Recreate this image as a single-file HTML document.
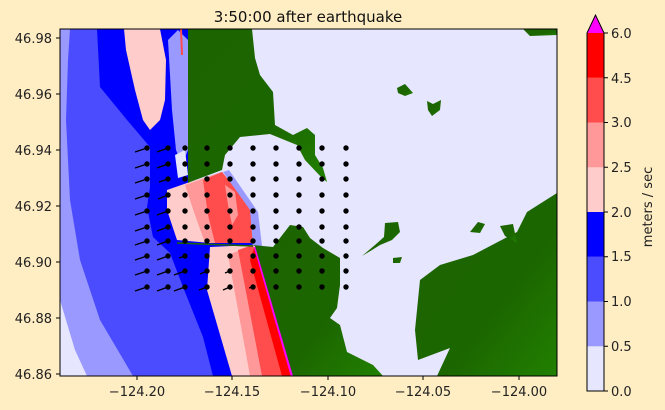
<!DOCTYPE html>
<html><head><meta charset="utf-8"><style>
html,body{margin:0;padding:0;background:#ffeec4;}
svg{display:block;font-family:"DejaVu Sans","Liberation Sans",sans-serif;}
</style></head><body>
<svg width="665" height="410" viewBox="0 0 665 410" xmlns="http://www.w3.org/2000/svg">
<defs>
<linearGradient id="g" x1="0" y1="0" x2="1" y2="1">
<stop offset="0" stop-color="#1c6400"/><stop offset="0.6" stop-color="#1c6600"/><stop offset="1" stop-color="#218000"/>
</linearGradient>
<clipPath id="c"><rect x="60" y="29" width="497" height="347"/></clipPath>
</defs>
<rect width="665" height="410" fill="#ffeec4"/>
<g clip-path="url(#c)">
<rect x="60" y="29" width="497" height="347" fill="#e6e6ff"/>
<polygon points="60,29 188,29 188,183 222,172 253,210 253,247 293,376 60,376" fill="#4c4cff"/>
<polygon points="60,29 70,29 68,60 66,120 70,200 80,260 100,320 133,376 60,376" fill="#9999ff"/>
<polygon points="60,300 75,350 87,376 60,376" fill="#e6e6ff"/>
<polygon points="97,29 188,29 188,183 222,172 253,247 293,376 213,376 203,337 183,287 170,253 153,237 147,207 150,187 150,147 127,120 100,87" fill="#0000ff"/>
<polygon points="168,40 178,30 188,40 188,150 182,165 176,150 172,110" fill="#9999ff"/>
<polygon points="175,155 185,150 188,175 178,178" fill="#e6e6ff"/>
<polygon points="124,29 160,29 166,60 165,100 160,120 150,130 143,120 135,90 126,50" fill="#ffcccc"/>
<polygon points="180,29 182,29 183,55 181,55" fill="#ff4c4c"/>
<polygon points="167,190 187,183 222,172 250,207 253,243 210,243 177,240 167,210" fill="#ffcccc"/>
<polygon points="185,185 222,172 250,207 253,243 205,243 195,215" fill="#ff9999"/>
<polygon points="203,180 222,172 250,207 253,243 215,243 208,215" fill="#ff4c4c"/>
<polygon points="225,185 235,192 238,215 232,225 228,205" fill="#ff9999"/>
<polygon points="223,172 229,170 258,212 262,246 253,246 250,210" fill="#9999ff"/>
<polygon points="210,247 253,245 293,376 232,376 207,290" fill="#ffcccc"/>
<polygon points="228,255 253,245 293,376 250,376" fill="#ff9999"/>
<polygon points="238,250 253,245 293,376 262,376" fill="#ff4c4c"/>
<polygon points="250,260 255,246 293,376 282,376" fill="#ff0000"/>
<line x1="255" y1="247" x2="292" y2="376" stroke="#ff00ff" stroke-width="2.5"/>
<line x1="177" y1="243" x2="253" y2="246" stroke="#1c6400" stroke-width="1.5"/>
<polygon fill="url(#g)" points="188,29 252,29 255,58 260,75 273,92 275,125 293,135 307,128 315,135 315,155 323,168 327,182 322,178 305,160 297,145 270,134 240,137 225,155 222,170 190,182 188,183"/>
<polygon fill="url(#g)" points="255,246 253,245 273,247 290,225 303,227 310,238 323,248 340,258 340,285 337,308 330,318 340,325 347,352 373,365 383,376 293,376"/>
<polygon fill="url(#g)" points="437,376 450,348 418,360 415,330 420,280 440,265 473,255 517,232 527,212 557,193 557,376"/>
<polygon fill="url(#g)" points="523,29 557,29 557,35 530,36"/>
<polygon fill="url(#g)" points="397,88 405,84 413,93 405,96 398,93"/>
<polygon fill="url(#g)" points="427,101 433,104 441,100 440,110 432,116 428,110"/>
<polygon fill="url(#g)" points="385,223 398,222 400,232 392,240 380,245 372,250 362,256 375,245 384,237"/>
<polygon fill="url(#g)" points="470,232 478,222 485,224 480,233"/>
<polygon fill="url(#g)" points="500,226 513,224 517,243 505,236"/>
<polygon fill="url(#g)" points="393,258 402,257 400,263 393,263"/>
</g>
<rect x="60" y="29" width="497" height="347" fill="none" stroke="#000" stroke-width="1"/>
<g fill="none" stroke="#000" stroke-width="1.3">
<path d="M147,148 l-12,4 M168,148 l-11,4 M147,164 l-12,4 M168,164 l-11,4 M147,179 l-12,4 M168,179 l-9,3 M147,195 l-12,4 M168,195 l-10,4 M147,211 l-12,4 M168,211 l-11,4 M147,227 l-12,4 M168,227 l-11,4 M147,241 l-12,4 M168,241 l-11,4 M147,256 l-12,4 M168,256 l-11,4 M185,256 l-6,2 M147,271 l-12,4 M168,271 l-11,4 M185,271 l-11,4 M207,271 l-7,3 M230,271 l-5,2 M147,287 l-12,4 M168,287 l-11,4 M185,287 l-11,4 M207,287 l-8,3 M230,287 l-7,3 M253,287 l-4,1"/>
</g>
<g fill="#000">
<circle cx="147" cy="148" r="2.7"/><circle cx="168" cy="148" r="2.7"/><circle cx="185" cy="148" r="2.7"/><circle cx="207" cy="148" r="2.7"/><circle cx="230" cy="148" r="2.7"/><circle cx="253" cy="148" r="2.7"/><circle cx="276" cy="148" r="2.7"/><circle cx="299" cy="148" r="2.7"/><circle cx="322" cy="148" r="2.7"/><circle cx="346" cy="148" r="2.7"/>
<circle cx="147" cy="164" r="2.7"/><circle cx="168" cy="164" r="2.7"/><circle cx="185" cy="164" r="2.7"/><circle cx="207" cy="164" r="2.7"/><circle cx="230" cy="164" r="2.7"/><circle cx="253" cy="164" r="2.7"/><circle cx="276" cy="164" r="2.7"/><circle cx="299" cy="164" r="2.7"/><circle cx="322" cy="164" r="2.7"/><circle cx="346" cy="164" r="2.7"/>
<circle cx="147" cy="179" r="2.7"/><circle cx="168" cy="179" r="2.7"/><circle cx="185" cy="179" r="2.7"/><circle cx="207" cy="179" r="2.7"/><circle cx="230" cy="179" r="2.7"/><circle cx="253" cy="179" r="2.7"/><circle cx="276" cy="179" r="2.7"/><circle cx="299" cy="179" r="2.7"/><circle cx="322" cy="179" r="2.7"/><circle cx="346" cy="179" r="2.7"/>
<circle cx="147" cy="195" r="2.7"/><circle cx="168" cy="195" r="2.7"/><circle cx="185" cy="195" r="2.7"/><circle cx="207" cy="195" r="2.7"/><circle cx="230" cy="195" r="2.7"/><circle cx="253" cy="195" r="2.7"/><circle cx="276" cy="195" r="2.7"/><circle cx="299" cy="195" r="2.7"/><circle cx="322" cy="195" r="2.7"/><circle cx="346" cy="195" r="2.7"/>
<circle cx="147" cy="211" r="2.7"/><circle cx="168" cy="211" r="2.7"/><circle cx="185" cy="211" r="2.7"/><circle cx="207" cy="211" r="2.7"/><circle cx="230" cy="211" r="2.7"/><circle cx="253" cy="211" r="2.7"/><circle cx="276" cy="211" r="2.7"/><circle cx="299" cy="211" r="2.7"/><circle cx="322" cy="211" r="2.7"/><circle cx="346" cy="211" r="2.7"/>
<circle cx="147" cy="227" r="2.7"/><circle cx="168" cy="227" r="2.7"/><circle cx="185" cy="227" r="2.7"/><circle cx="207" cy="227" r="2.7"/><circle cx="230" cy="227" r="2.7"/><circle cx="253" cy="227" r="2.7"/><circle cx="276" cy="227" r="2.7"/><circle cx="299" cy="227" r="2.7"/><circle cx="322" cy="227" r="2.7"/><circle cx="346" cy="227" r="2.7"/>
<circle cx="147" cy="241" r="2.7"/><circle cx="168" cy="241" r="2.7"/><circle cx="185" cy="241" r="2.7"/><circle cx="207" cy="241" r="2.7"/><circle cx="230" cy="241" r="2.7"/><circle cx="253" cy="241" r="2.7"/><circle cx="276" cy="241" r="2.7"/><circle cx="299" cy="241" r="2.7"/><circle cx="322" cy="241" r="2.7"/><circle cx="346" cy="241" r="2.7"/>
<circle cx="147" cy="256" r="2.7"/><circle cx="168" cy="256" r="2.7"/><circle cx="185" cy="256" r="2.7"/><circle cx="207" cy="256" r="2.7"/><circle cx="230" cy="256" r="2.7"/><circle cx="253" cy="256" r="2.7"/><circle cx="276" cy="256" r="2.7"/><circle cx="299" cy="256" r="2.7"/><circle cx="322" cy="256" r="2.7"/><circle cx="346" cy="256" r="2.7"/>
<circle cx="147" cy="271" r="2.7"/><circle cx="168" cy="271" r="2.7"/><circle cx="185" cy="271" r="2.7"/><circle cx="207" cy="271" r="2.7"/><circle cx="230" cy="271" r="2.7"/><circle cx="253" cy="271" r="2.7"/><circle cx="276" cy="271" r="2.7"/><circle cx="299" cy="271" r="2.7"/><circle cx="322" cy="271" r="2.7"/><circle cx="346" cy="271" r="2.7"/>
<circle cx="147" cy="287" r="2.7"/><circle cx="168" cy="287" r="2.7"/><circle cx="185" cy="287" r="2.7"/><circle cx="207" cy="287" r="2.7"/><circle cx="230" cy="287" r="2.7"/><circle cx="253" cy="287" r="2.7"/><circle cx="276" cy="287" r="2.7"/><circle cx="299" cy="287" r="2.7"/><circle cx="322" cy="287" r="2.7"/><circle cx="346" cy="287" r="2.7"/>
</g>
<g stroke="#000" stroke-width="1">
<path d="M137,376v4 M232,376v4 M328,376v4 M423,376v4 M519,376v4 M60,38h-4 M60,94h-4 M60,150h-4 M60,206h-4 M60,262h-4 M60,318h-4 M60,374h-4"/>
</g>
<g font-size="13" fill="#222" text-anchor="middle">
<text x="137" y="396">−124.20</text><text x="232" y="396">−124.15</text><text x="328" y="396">−124.10</text><text x="423" y="396">−124.05</text><text x="519" y="396">−124.00</text>
</g>
<g font-size="13" fill="#222" text-anchor="end">
<text x="52" y="43">46.98</text><text x="52" y="99">46.96</text><text x="52" y="155">46.94</text><text x="52" y="211">46.92</text><text x="52" y="267">46.90</text><text x="52" y="323">46.88</text><text x="52" y="379">46.86</text>
</g>
<text x="308" y="22" font-size="15" text-anchor="middle" fill="#111">3:50:00 after earthquake</text>
<g>
<rect x="587" y="346.3" width="17" height="44.7" fill="#e6e6ff"/>
<rect x="587" y="301.5" width="17" height="44.8" fill="#9999ff"/>
<rect x="587" y="256.8" width="17" height="44.7" fill="#4c4cff"/>
<rect x="587" y="212" width="17" height="44.8" fill="#0000ff"/>
<rect x="587" y="167.3" width="17" height="44.7" fill="#ffcccc"/>
<rect x="587" y="122.5" width="17" height="44.8" fill="#ff9999"/>
<rect x="587" y="77.8" width="17" height="44.7" fill="#ff4c4c"/>
<rect x="587" y="33" width="17" height="44.8" fill="#ff0000"/>
<polygon points="587,33 595.5,15 604,33" fill="#ff00ff"/>
<polygon points="587,391 587,33 595.5,15 604,33 604,391" fill="none" stroke="#000" stroke-width="1"/>
<path d="M604,33h4 M604,77.8h4 M604,122.5h4 M604,167.3h4 M604,212h4 M604,256.8h4 M604,301.5h4 M604,346.3h4 M604,391h4" stroke="#000"/>
<g font-size="13" fill="#222">
<text x="611" y="38">6.0</text><text x="611" y="83">4.5</text><text x="611" y="127">3.0</text><text x="611" y="172">2.5</text><text x="611" y="217">2.0</text><text x="611" y="261">1.5</text><text x="611" y="306">1.0</text><text x="611" y="351">0.5</text><text x="611" y="396">0.0</text>
</g>
<text transform="translate(652,207) rotate(-90)" font-size="13" fill="#222" text-anchor="middle">meters / sec</text>
</g>
</svg>
</body></html>
